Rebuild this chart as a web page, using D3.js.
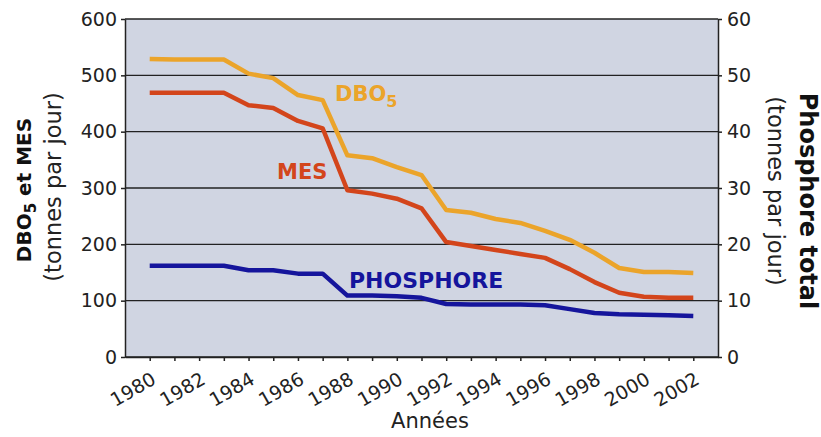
<!DOCTYPE html>
<html><head><meta charset="utf-8">
<script src="https://cdn.jsdelivr.net/npm/d3@7"></script>
<style>body{margin:0;background:#fff}svg{display:block}text{font-family:"DejaVu Sans",Verdana,sans-serif}</style>
</head><body><svg id="c" width="821" height="437"></svg>
<script>
const years = d3.range(1980, 2003);
const dbo5 = [529,528,528,528,503,495,465,456,358,353,337,323,261,256,245,238,224,208,185,158,151,151,149];
const mes  = [469,469,469,469,447,442,419,406,296,290,281,264,204,197,190,183,176,156,133,114,107,105,105];
const phosphore = [16.2,16.2,16.2,16.2,15.4,15.4,14.8,14.8,10.9,10.9,10.8,10.5,9.4,9.3,9.3,9.3,9.2,8.5,7.8,7.6,7.5,7.4,7.3];
const leftTicks = [0,100,200,300,400,500,600];
const rightTicks = [0,10,20,30,40,50,60];
const xLabels = d3.range(1980, 2003, 2);

const svg = d3.select("#c");
const L = 125, R = 718, T = 19, B = 357;
const x = d3.scaleLinear().domain([1979, 2003]).range([L, R]);
const yL = d3.scaleLinear().domain([0, 600]).range([B, T]);
const yR = d3.scaleLinear().domain([0, 60]).range([B, T]);

svg.append("rect").attr("x", L).attr("y", T).attr("width", R - L).attr("height", B - T).attr("fill", "#d0d5e2");

// gridlines
svg.append("g").selectAll("line").data(leftTicks).join("line")
  .attr("x1", L).attr("x2", R).attr("y1", d => yL(d)).attr("y2", d => yL(d))
  .attr("stroke", "#222").attr("stroke-width", 1.3);

const fs = "19px";
const gl = svg.append("g").attr("transform", `translate(${L},0)`)
  .call(d3.axisLeft(yL).tickValues(leftTicks).tickSize(4).tickPadding(4).tickSizeOuter(0));
const gr = svg.append("g").attr("transform", `translate(${R},0)`)
  .call(d3.axisRight(yR).tickValues(rightTicks).tickSize(4).tickPadding(5).tickSizeOuter(0));
const gb = svg.append("g").attr("transform", `translate(0,${B})`)
  .call(d3.axisBottom(x).tickValues(years).tickSize(4).tickSizeOuter(0).tickFormat(d => xLabels.includes(d) ? d : ""));
[gl, gr, gb].forEach(g => {
  g.select(".domain").attr("stroke", "#222").attr("stroke-width", 1.5);
  g.selectAll(".tick line").attr("stroke", "#222").attr("stroke-width", 1.5);
  g.selectAll("text").attr("font-size", fs).attr("fill", "#222").attr("font-family", "DejaVu Sans, Verdana, sans-serif");
});
gb.selectAll("text").attr("text-anchor", "end").attr("dy", null).attr("y", 0)
  .attr("transform", "translate(7,26) rotate(-30)");

// lines
const line = (ys) => d3.line().x((d, i) => x(years[i])).y(d => ys(d));
const series = [
  {data: dbo5, scale: yL, color: "#eba42a"},
  {data: mes, scale: yL, color: "#d3451b"},
  {data: phosphore, scale: yR, color: "#15159c"}
];
svg.append("g").selectAll("path").data(series).join("path")
  .attr("d", s => line(s.scale)(s.data))
  .attr("fill", "none").attr("stroke", s => s.color).attr("stroke-width", 4.5)
  .attr("stroke-linejoin", "round");

// series labels
const lab = (t, xx, yy, c, f) => svg.append("text").attr("x", xx).attr("y", yy).attr("fill", c)
  .attr("font-size", f).attr("font-weight", "bold").text(t);
const d5 = lab("DBO", 335, 101, "#eba42a", "21px");
d5.append("tspan").attr("font-size", "16px").attr("dy", 6).text("5");
lab("MES", 277, 179, "#d3451b", "21px");
lab("PHOSPHORE", 349, 288, "#15159c", "22px");

// axis titles
const t1 = svg.append("text").attr("transform", "translate(31,190) rotate(-90)").attr("text-anchor", "middle")
  .attr("font-size", "20px").attr("font-weight", "bold").attr("fill", "#111").text("DBO");
t1.append("tspan").attr("font-size", "15px").attr("dy", 5).text("5");
t1.append("tspan").attr("dy", -5).text(" et MES");
svg.append("text").attr("transform", "translate(61,187) rotate(-90)").attr("text-anchor", "middle")
  .attr("font-size", "22.5px").attr("fill", "#222").text("(tonnes par jour)");
svg.append("text").attr("transform", "translate(800,201) rotate(90)").attr("text-anchor", "middle")
  .attr("font-size", "24px").attr("font-weight", "bold").attr("fill", "#111").text("Phosphore total");
svg.append("text").attr("transform", "translate(768,191) rotate(90)").attr("text-anchor", "middle")
  .attr("font-size", "22.5px").attr("fill", "#222").text("(tonnes par jour)");
svg.append("text").attr("x", 430).attr("y", 428).attr("text-anchor", "middle")
  .attr("font-size", "21px").attr("fill", "#222").text("Années");
</script></body></html>
